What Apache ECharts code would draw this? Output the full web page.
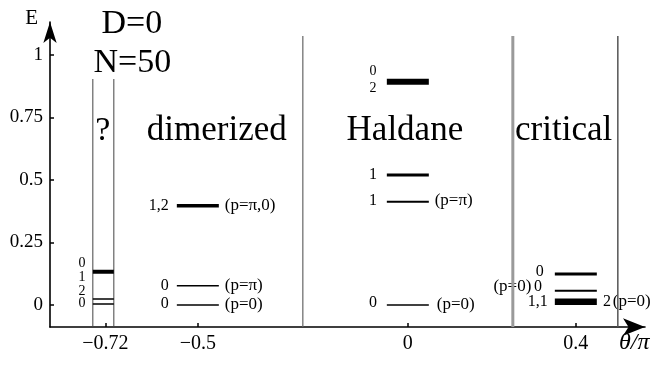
<!DOCTYPE html>
<html><head><meta charset="utf-8">
<script src="https://cdn.jsdelivr.net/npm/echarts@6/dist/echarts.min.js"></script>
<style>html,body{margin:0;padding:0;background:#fff}#c{width:656px;height:367px}</style>
</head><body><div id="c"></div>
<script>
// ---- axis ticks ----
const xTicks = [-0.72, -0.5, 0, 0.4];
const xTickLabels = ['\u22120.72', '\u22120.5', '0', '0.4'];
const yTicks = [0, 0.25, 0.5, 0.75, 1];
const yTickLabels = ['0', '0.25', '0.5', '0.75', '1'];

// ---- phase boundaries (θ/π) and how high they reach (E) ----
const boundaryTheta = [-0.75, -0.70, -0.25, 0.25, 0.5];
const boundaryTop = [0.904, 0.904, 1.076, 1.076, 1.076];

// ---- energy levels per phase ----
const unknownSpan = [-0.75, -0.70];
const unknownLevels = [0.004, 0.024, 0.133];
const dimerizedSpan = [-0.55, -0.45];
const dimerizedLevels = [0, 0.077, 0.397];
const haldaneSpan = [-0.05, 0.05];
const haldaneLevels = [0, 0.413, 0.52, 0.893];
const criticalSpan = [0.35, 0.45];
const criticalLevels = [0.013, 0.057, 0.124];

// ---- styles (kept apart from data) ----
const unknownWidths = [1.5, 1.5, 4];
const dimerizedWidths = [1.5, 1.5, 3.5];
const haldaneWidths = [1.5, 2, 3, 6];
const criticalWidths = [6.5, 2, 3];
const boundaryStyles = [
  {color:'#444', width:1}, {color:'#444', width:1},
  {color:'#666', width:1.2}, {color:'#9a9a9a', width:3}, {color:'#555', width:1.5}
];

const SERIF = '"Liberation Serif","DejaVu Serif",serif';

// ---- text annotations: [text, θ, E, align, fontSize] ----
const titleTags = [
  ['D=0', -0.657, 1.122, 'center', 34],
  ['N=50', -0.656, 0.966, 'center', 34],
  ['?', -0.726, 0.696, 'center', 34],
  ['dimerized', -0.455, 0.696, 'center', 35],
  ['Haldane', -0.007, 0.696, 'center', 35],
  ['critical', 0.371, 0.696, 'center', 35]
];
const levelTags = [
  ['0', -0.776, 0.168, 'center', 14],
  ['1', -0.776, 0.112, 'center', 14],
  ['2', -0.776, 0.056, 'center', 14],
  ['0', -0.776, 0.008, 'center', 14],
  ['1,2', -0.569, 0.397, 'right', 16],
  ['(p=\u03c0,0)', -0.436, 0.397, 'left', 17],
  ['0', -0.569, 0.077, 'right', 16],
  ['(p=\u03c0)', -0.436, 0.077, 'left', 17],
  ['0', -0.569, 0.004, 'right', 16],
  ['(p=0)', -0.436, 0.0, 'left', 17],
  ['0', -0.083, 0.936, 'center', 14],
  ['2', -0.083, 0.866, 'center', 14],
  ['1', -0.083, 0.52, 'center', 16],
  ['1', -0.083, 0.416, 'center', 16],
  ['(p=\u03c0)', 0.064, 0.416, 'left', 17],
  ['0', -0.083, 0.008, 'center', 16],
  ['(p=0)', 0.069, 0.0, 'left', 17],
  ['0', 0.314, 0.132, 'center', 16],
  ['0', 0.310, 0.072, 'center', 16],
  ['(p=0)', 0.294, 0.072, 'right', 17],
  ['1,1', 0.333, 0.012, 'right', 16],
  ['2', 0.474, 0.012, 'center', 16],
  ['(p=0)', 0.488, 0.012, 'left', 17]
];

const Y_MIN = -0.088, Y_MAX = 1.132, X_MIN = -0.852, X_MAX = 0.5647;

const series = [];
boundaryTheta.forEach((t, i) => {
  series.push({
    type: 'line', silent: true, symbol: 'none', animation: false,
    data: [[t, Y_MIN], [t, boundaryTop[i]]],
    lineStyle: {color: boundaryStyles[i].color, width: boundaryStyles[i].width}
  });
});
function addLevels(span, levels, widths) {
  levels.forEach((e, i) => {
    series.push({
      type: 'line', silent: true, symbol: 'none', animation: false,
      data: [[span[0], e], [span[1], e]],
      lineStyle: {color: '#000', width: widths[i], cap: 'butt'}
    });
  });
}
addLevels(unknownSpan, unknownLevels, unknownWidths);
addLevels(dimerizedSpan, dimerizedLevels, dimerizedWidths);
addLevels(haldaneSpan, haldaneLevels, haldaneWidths);
addLevels(criticalSpan, criticalLevels, criticalWidths);

function tagSeries(tags) {
  return {
    type: 'scatter', silent: true, animation: false, symbolSize: 0,
    itemStyle: {opacity: 1},
    data: tags.map(t => ({
      value: [t[1], t[2]], name: t[0],
      label: {
        show: true, position: [0, 0], formatter: t[0],
        align: t[3], verticalAlign: 'middle',
        fontFamily: SERIF, fontSize: t[4], color: '#000', opacity: 1
      }
    }))
  };
}
series.push(tagSeries(titleTags));
series.push(tagSeries(levelTags));

const chart = echarts.init(document.getElementById('c'), null, {renderer: 'canvas'});
chart.setOption({
  animation: false,
  backgroundColor: '#fff',
  grid: {left: 50, right: 11, top: 22, bottom: 40, containLabel: false},
  xAxis: {
    type: 'value', min: X_MIN, max: X_MAX,
    name: '\u03b8/\u03c0', nameLocation: 'end', nameGap: -26,
    nameTextStyle: {fontFamily: SERIF, fontStyle: 'italic', fontSize: 24, color: '#000',
      align: 'left', verticalAlign: 'top', padding: [4, 0, 0, 0]},
    axisLine: {onZero: false, symbol: ['none', 'arrow'], symbolSize: [13, 22],
      lineStyle: {color: '#000', width: 1.6}},
    axisTick: {show: true, inside: true, length: 4, customValues: xTicks,
      lineStyle: {color: '#000', width: 1.5}},
    axisLabel: {customValues: xTicks, margin: 7, fontFamily: SERIF, fontSize: 20, color: '#000',
      formatter: v => xTickLabels[xTicks.findIndex(t => Math.abs(t - v) < 1e-6)]},
    splitLine: {show: false}
  },
  yAxis: {
    type: 'value', min: Y_MIN, max: Y_MAX,
    name: 'E', nameLocation: 'end', nameGap: 4,
    nameTextStyle: {fontFamily: SERIF, fontSize: 21, color: '#000',
      align: 'right', verticalAlign: 'middle', padding: [0, 12, 0, 0]},
    axisLine: {onZero: false, symbol: ['none', 'arrow'], symbolSize: [10, 21],
      lineStyle: {color: '#000', width: 1.6}},
    axisTick: {show: true, inside: true, length: 4, customValues: yTicks,
      lineStyle: {color: '#000', width: 1.5}},
    axisLabel: {customValues: yTicks, margin: 7, fontFamily: SERIF, fontSize: 19, color: '#000',
      formatter: v => yTickLabels[yTicks.findIndex(t => Math.abs(t - v) < 1e-6)]},
    splitLine: {show: false}
  },
  series: series
});
</script>
</body></html>
